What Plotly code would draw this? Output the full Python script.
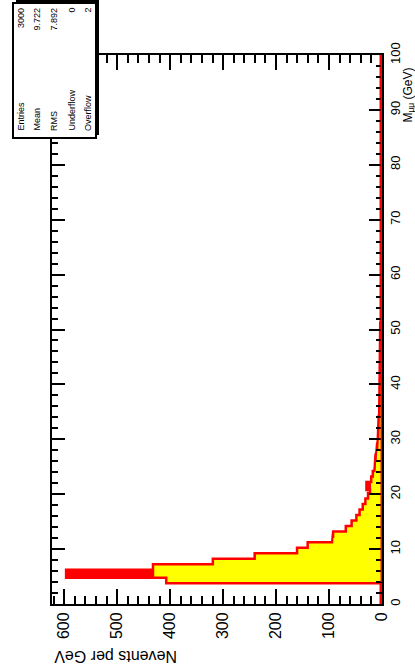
import plotly.graph_objects as go

# ---------------- data ----------------
m_edges = list(range(0, 101))          # 1 GeV bins, 0..100 GeV
red_counts = [0, 0, 0, 0, 405, 594, 430, 317, 238, 158,
              138, 92, 90, 66, 55, 46, 40, 34, 29, 24,
              20, 27, 18, 15, 12, 11, 10, 9, 7, 6,
              5, 5, 4, 4, 3, 3, 3, 2, 2, 2,
              2, 1, 1, 1, 1, 1, 1, 1, 1, 1,
              1] + [0] * 49
yellow_counts = [0, 0, 0, 0, 405, 430, 430, 317, 238, 158,
                 138, 92, 90, 66, 55, 46, 40, 34, 29, 24,
                 20, 21, 18, 15, 12, 11, 10, 9, 7, 6,
                 5, 5, 4, 4, 3, 3, 3, 2, 2, 2,
                 2, 1, 1, 1, 1, 1, 1, 1, 1, 1,
                 1] + [0] * 49
n_ticks = [0, 100, 200, 300, 400, 500, 600]
m_ticks = [0, 10, 20, 30, 40, 50, 60, 70, 80, 90, 100]
stat_names = ["Entries", "Mean", "RMS", "Underflow", "Overflow"]
stat_values = ["3000", "9.722", "7.892", "0", "2"]

# ---------------- layout geometry ----------------
W, H = 415, 672
L, R, T, B = 52, 33, 55, 68
PW, PH = W - L - R, H - T - B
FONT = "Liberation Sans, Arial, Helvetica, sans-serif"


def px(x):
    return (x - L) / PW


def py(y):
    return 1 - (y - T) / PH


def step_path(edges, counts):
    xs, ys = [0], [edges[0]]
    for i, c in enumerate(counts):
        xs += [c, c]
        ys += [edges[i], edges[i + 1]]
    xs.append(0)
    ys.append(edges[-1])
    return xs, ys


fig = go.Figure()
rx, ry = step_path(m_edges, red_counts)
fig.add_trace(go.Scatter(x=rx, y=ry, mode="lines", fill="toself",
                         fillcolor="#ff0000", line=dict(color="#ff0000", width=5),
                         hoverinfo="skip", showlegend=False))
yx, yy = step_path(m_edges, yellow_counts)
fig.add_trace(go.Scatter(x=yx, y=yy, mode="lines", fill="toself",
                         fillcolor="#ffff00", line=dict(color="#ffff00", width=0),
                         hoverinfo="skip", showlegend=False))

fig.update_layout(
    width=W, height=H,
    margin=dict(l=L, r=R, t=T, b=B, pad=0),
    paper_bgcolor="white", plot_bgcolor="white",
    font=dict(family=FONT, color="black"),
    showlegend=False,
)
fig.update_xaxes(
    range=[623, 0], tickvals=n_ticks, ticktext=[str(v) for v in n_ticks],
    ticks="inside", ticklen=15, tickwidth=2, tickcolor="black",
    showline=True, linewidth=2, linecolor="black", mirror="ticks",
    showgrid=False, zeroline=False, tickangle=-90,
    tickfont=dict(size=16, family=FONT, color="black"),
    minor=dict(dtick=20, ticks="inside", ticklen=8, tickwidth=2,
               tickcolor="black", showgrid=False),
)
fig.update_yaxes(
    range=[0, 100], side="right", tickvals=m_ticks,
    ticks="inside", ticklen=13, tickwidth=2, tickcolor="black",
    showline=True, linewidth=2, linecolor="black", mirror="ticks",
    showgrid=False, zeroline=False, tickangle=-90,
    tickfont=dict(size=13, family=FONT, color="black"),
    minor=dict(dtick=2, ticks="inside", ticklen=6, tickwidth=2,
               tickcolor="black", showgrid=False),
)

# axis titles
fig.add_annotation(text="Nevents per GeV", textangle=180, showarrow=False,
                   xref="paper", yref="paper", x=px(52), y=py(646),
                   xanchor="left", yanchor="top",
                   font=dict(size=16, family=FONT, color="black"))
fig.add_annotation(text="M<sub>μμ</sub> (GeV)", textangle=-90, showarrow=False,
                   xref="paper", yref="paper", x=px(399), y=py(66),
                   xanchor="left", yanchor="top",
                   font=dict(size=12, family=FONT, color="black"))

# red histogram outline running along the zero line (drawn over the frame, as in the reference)
first_nonzero = next(i for i, c in enumerate(red_counts) if c > 0)
shapes = [
    dict(type="line", xref="x", yref="y", layer="above",
         x0=0, x1=0, y0=m_edges[first_nonzero], y1=m_edges[-1],
         line=dict(color="#ff0000", width=3)),
    # stats box (shadow + box)
    dict(type="rect", xref="paper", yref="paper", layer="above",
         x0=px(16), x1=px(99), y0=py(0), y1=py(135),
         fillcolor="black", line=dict(width=0)),
    dict(type="rect", xref="paper", yref="paper", layer="above",
         x0=px(13), x1=px(96), y0=py(3), y1=py(138),
         fillcolor="white", line=dict(color="black", width=2)),
]
fig.update_layout(shapes=shapes)
col_x = [21, 37, 54, 72, 88]
for cx, name, val in zip(col_x, stat_names, stat_values):
    fig.add_annotation(text=name, textangle=-90, showarrow=False,
                       xref="paper", yref="paper", x=px(cx), y=py(133),
                       xanchor="center", yanchor="bottom",
                       font=dict(size=9, family=FONT, color="black"))
    fig.add_annotation(text=val, textangle=-90, showarrow=False,
                       xref="paper", yref="paper", x=px(cx), y=py(6),
                       xanchor="center", yanchor="top",
                       font=dict(size=9, family=FONT, color="black"))

fig.write_html("out.html")
